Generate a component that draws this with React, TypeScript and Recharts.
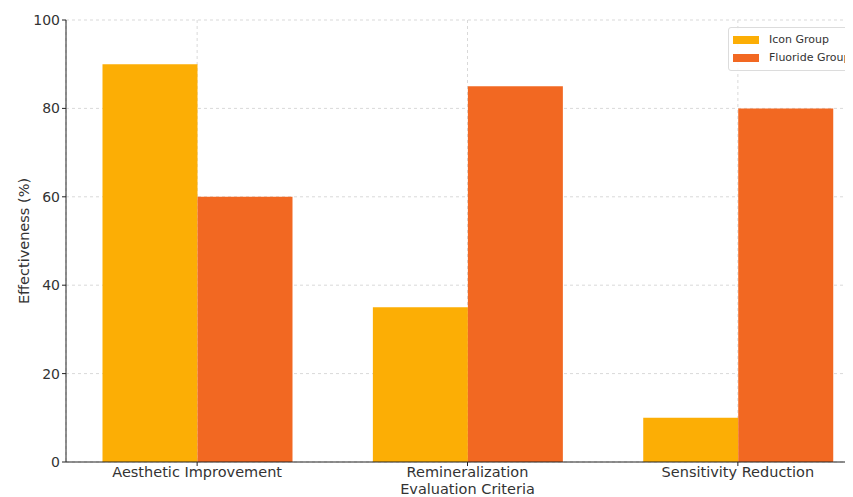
import { Bar, BarChart, CartesianGrid, XAxis, YAxis } from "recharts";

const criteria = ["Aesthetic Improvement", "Remineralization", "Sensitivity Reduction"];
const iconGroup = [90, 35, 10];
const fluorideGroup = [60, 85, 80];
const yTicks = [0, 20, 40, 60, 80, 100];
const xTicks = [0, 1, 2];

const YELLOW = "#FCAE05";
const ORANGE = "#F26822";
const FONT = "DejaVu Sans, sans-serif";

const rows = criteria.map((c, i) => ({
  pos: i,
  name: c,
  "Icon Group": iconGroup[i],
  "Fluoride Group": fluorideGroup[i],
}));

const legendItems = [
  { label: "Icon Group", color: YELLOW },
  { label: "Fluoride Group", color: ORANGE },
];

function LegendBox() {
  return (
    <div
      style={{
        position: "absolute",
        left: 720,
        top: 19,
        border: "1px solid #dcdcdc",
        borderRadius: 3,
        background: "rgba(255,255,255,0.85)",
        padding: "3px 8px 3px 4px",
        fontFamily: FONT,
        fontSize: 11,
        color: "#333",
        lineHeight: "18px",
        whiteSpace: "nowrap",
      }}
    >
      {legendItems.map((it) => (
        <div key={it.label} style={{ display: "flex", alignItems: "center" }}>
          <span style={{ width: 26, height: 8, background: it.color, marginRight: 10, display: "inline-block" }} />
          {it.label}
        </div>
      ))}
    </div>
  );
}

export default function App() {
  return (
    <div style={{ position: "relative", width: 845, height: 489, overflow: "hidden", background: "#fff" }}>
      <BarChart
        width={885}
        height={489}
        data={rows}
        margin={{ top: 12, right: 24, left: 0, bottom: 0 }}
        barCategoryGap="15%"
        barGap={0}
      >
        <CartesianGrid stroke="#d9d9d9" strokeDasharray="3 3" />
        <XAxis
          dataKey="pos"
          type="number"
          domain={[-0.485, 2.485]}
          ticks={xTicks}
          tickFormatter={(v) => criteria[v] ?? ""}
          height={35}
          stroke="#222"
          tickSize={4}
          tickMargin={1}
          tick={{ fill: "#333", fontSize: 14.5, fontFamily: FONT }}
          label={{
            value: "Evaluation Criteria",
            position: "insideBottom",
            offset: 3,
            fill: "#333",
            fontSize: 14.5,
            fontFamily: FONT,
          }}
        />
        <YAxis
          domain={[0, 100]}
          ticks={yTicks}
          width={58}
          stroke="#222"
          tickSize={4}
          tickMargin={2}
          tick={{ fill: "#333", fontSize: 14, fontFamily: FONT }}
          label={{
            value: "Effectiveness (%)",
            angle: -90,
            position: "insideLeft",
            offset: 16,
            style: { textAnchor: "middle" },
            fill: "#333",
            fontSize: 14.5,
            fontFamily: FONT,
          }}
        />
        <Bar dataKey="Icon Group" fill={YELLOW} isAnimationActive={false} />
        <Bar dataKey="Fluoride Group" fill={ORANGE} isAnimationActive={false} />
      </BarChart>
      <LegendBox />
    </div>
  );
}
